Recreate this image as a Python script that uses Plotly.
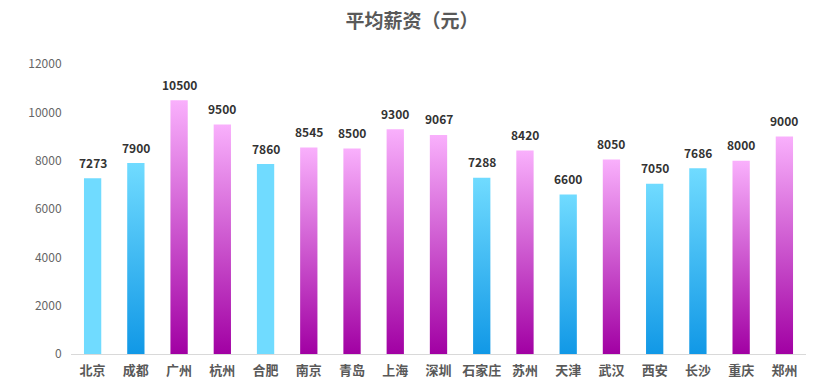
import plotly.graph_objects as go

cities = ["北京", "成都", "广州", "杭州", "合肥", "南京", "青岛", "上海", "深圳",
          "石家庄", "苏州", "天津", "武汉", "西安", "长沙", "重庆", "郑州"]
salaries = [7273, 7900, 10500, 9500, 7860, 8545, 8500, 9300, 9067,
            7288, 8420, 6600, 8050, 7050, 7686, 8000, 9000]
y_ticks = [0, 2000, 4000, 6000, 8000, 10000, 12000]
y_tick_labels = ["0", "2000", "4000", "6000", "8000", "10000", "12000"]

# fill style per bar
styles = ["solid", "blue", "pink", "pink", "solid", "pink", "pink", "pink", "pink",
          "blue", "pink", "blue", "pink", "blue", "blue", "pink", "pink"]
SCALES = {
    "solid": [[0, "#70DBFF"], [1, "#70DBFF"]],
    "blue": [[0, "#1198E6"], [1, "#70DBFF"]],
    "pink": [[0, "#A100A3"], [1, "#F9B0FC"]],
}
HALF = 0.2

fig = go.Figure()
for i, (c, v, s) in enumerate(zip(cities, salaries, styles)):
    fig.add_trace(go.Scatter(
        x=[i - HALF, i - HALF, i + HALF, i + HALF, i - HALF],
        y=[0, v, v, 0, 0],
        mode="lines", fill="toself",
        fillgradient=dict(type="vertical", colorscale=SCALES[s]),
        line=dict(width=0, color="rgba(0,0,0,0)"),
        hoverinfo="skip", showlegend=False, name=c,
    ))

for i, v in enumerate(salaries):
    fig.add_annotation(x=i, y=v, text=f"<b>{v}</b>", showarrow=False,
                       yshift=16, font=dict(size=12, color="#333333"))

fig.update_layout(
    width=824, height=390,
    margin=dict(l=71, r=18, t=64, b=36),
    paper_bgcolor="white", plot_bgcolor="white",
    font=dict(family="Noto Sans CJK SC, sans-serif"),
    title=dict(text="<b>平均薪资（元）</b>", x=0.5, xanchor="center", y=0.945,
               yanchor="middle", font=dict(size=19, color="#595959")),
    xaxis=dict(range=[-0.5, len(cities) - 0.5], tickmode="array",
               tickvals=list(range(len(cities))), ticktext=[f"<b>{c}</b>" for c in cities],
               showgrid=False, zeroline=False, showline=True, linecolor="#D9D9D9",
               linewidth=1, ticks="outside", ticklen=4, tickcolor="rgba(0,0,0,0)",
               tickfont=dict(size=13, color="#595959")),
    yaxis=dict(range=[0, 12000], tickmode="array", tickvals=y_ticks,
               ticktext=y_tick_labels, showgrid=False, zeroline=False,
               showline=False, ticks="outside", ticklen=6, tickcolor="rgba(0,0,0,0)",
               tickfont=dict(size=12, color="#666666")),
)
fig.write_html("out.html", config={"displayModeBar": False},
               post_script="document.body.style.margin='0';")
